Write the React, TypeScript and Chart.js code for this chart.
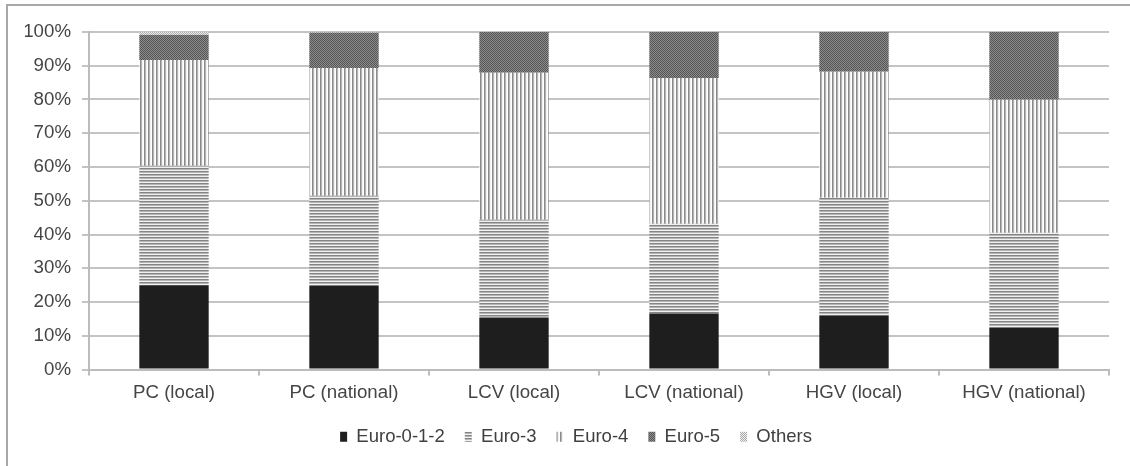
import React, { useEffect, useRef } from "react";
import { Chart, registerables } from "chart.js";

Chart.register(...registerables);

const categories = ["PC (local)", "PC (national)", "LCV (local)", "LCV (national)", "HGV (local)", "HGV (national)"];
const seriesNames = ["Euro-0-1-2", "Euro-3", "Euro-4", "Euro-5", "Others"];
const euro012 = [25, 24.8, 15.4, 16.6, 16, 12.4];
const euro3 = [35.4, 26.7, 29, 26.6, 34.9, 28.1];
const euro4 = [31.3, 37.8, 43.5, 43.2, 37.3, 39.4];
const euro5 = [7.4, 10.5, 12.1, 13.6, 11.8, 20.1];
const others = [0.9, 0.2, 0, 0, 0, 0];
const yTicks = [0, 10, 20, 30, 40, 50, 60, 70, 80, 90, 100];

const FONT = "'Liberation Sans', Arial, sans-serif";

function makePattern(w: number, h: number, pix: (x: number, y: number) => string): CanvasPattern | string {
  const c = document.createElement("canvas");
  c.width = w;
  c.height = h;
  const ctx = c.getContext("2d");
  if (!ctx) return "#888";
  for (let y = 0; y < h; y++) {
    for (let x = 0; x < w; x++) {
      ctx.fillStyle = pix(x, y);
      ctx.fillRect(x, y, 1, 1);
    }
  }
  const p = ctx.createPattern(c, "repeat");
  return p || "#888";
}

export default function App() {
  const ref = useRef<HTMLCanvasElement | null>(null);

  useEffect(() => {
    if (!ref.current) return;
    const horiz = makePattern(3, 3, (_x, y) => ["#858585", "#b5b5b5", "#f0f0f0"][y]);
    const vert = makePattern(4, 4, (x) => ["#8a8a8a", "#b4b4b4", "#f3f3f3", "#ffffff"][x]);
    const dark = makePattern(2, 2, (x, y) => ((x + y) % 2 === 0 ? "#555555" : "#8c8c8c"));
    const light = makePattern(2, 2, (x, y) => ((x + y) % 2 === 0 ? "#a8a8a8" : "#eeeeee"));
    const fills: (string | CanvasPattern)[] = ["#1e1e1e", horiz, vert, dark, light];
    const values = [euro012, euro3, euro4, euro5, others];

    const legendShift = {
      id: "legendShift",
      afterLayout(chart: any) {
        const l = chart.legend;
        if (l) {
          l.left += 9;
          l.right += 9;
        }
      },
    };

    const chart = new Chart(ref.current, {
      type: "bar",
      data: {
        labels: categories,
        datasets: seriesNames.map((name, i) => ({
          label: name,
          data: values[i],
          backgroundColor: fills[i] as any,
          borderWidth: 0,
          categoryPercentage: 0.8,
          barPercentage: 0.51,
        })),
      },
      options: {
        animation: false,
        responsive: false,
        devicePixelRatio: 1,
        layout: { padding: { left: 25, right: 21, top: 32, bottom: 10 } },
        plugins: {
          tooltip: { enabled: false },
          legend: {
            position: "bottom",
            labels: {
              boxWidth: 7,
              boxHeight: 10,
              padding: 20,
              color: "#404040",
              font: { family: FONT, size: 18.5 },
            },
          },
        },
        scales: {
          x: {
            stacked: true,
            grid: { drawOnChartArea: false, drawTicks: true, tickLength: 6, color: "#bcbcbc", lineWidth: 2 },
            border: { display: true, color: "#bcbcbc", width: 2 },
            ticks: { color: "#454545", padding: 6, font: { family: FONT, size: 18.7 } },
            afterFit: (s: any) => {
              s.height = 38;
            },
          },
          y: {
            stacked: true,
            min: 0,
            max: 100,
            afterBuildTicks: (s: any) => {
              s.ticks = yTicks.map((v) => ({ value: v }));
            },
            grid: { color: "#c4c4c4", lineWidth: 2, tickLength: 7 },
            border: { display: true, color: "#bcbcbc", width: 2 },
            ticks: {
              color: "#454545",
              padding: 11,
              font: { family: FONT, size: 18.7 },
              callback: (v: any) => v + "%",
            },
            afterFit: (s: any) => {
              s.width = 64;
            },
          },
        },
      },
      plugins: [legendShift],
    });
    return () => chart.destroy();
  }, []);

  return (
    <div style={{ position: "absolute", left: 0, top: 0, width: 1130, height: 466, background: "#fff", overflow: "hidden" }}>
      <div
        style={{
          position: "absolute",
          left: 6,
          top: 4,
          right: -10,
          bottom: -10,
          borderLeft: "2px solid #a8a8a8",
          borderTop: "2px solid #a8a8a8",
        }}
      />
      <canvas ref={ref} width={1130} height={466} style={{ position: "absolute", left: 0, top: 0, width: 1130, height: 466 }} />
    </div>
  );
}
